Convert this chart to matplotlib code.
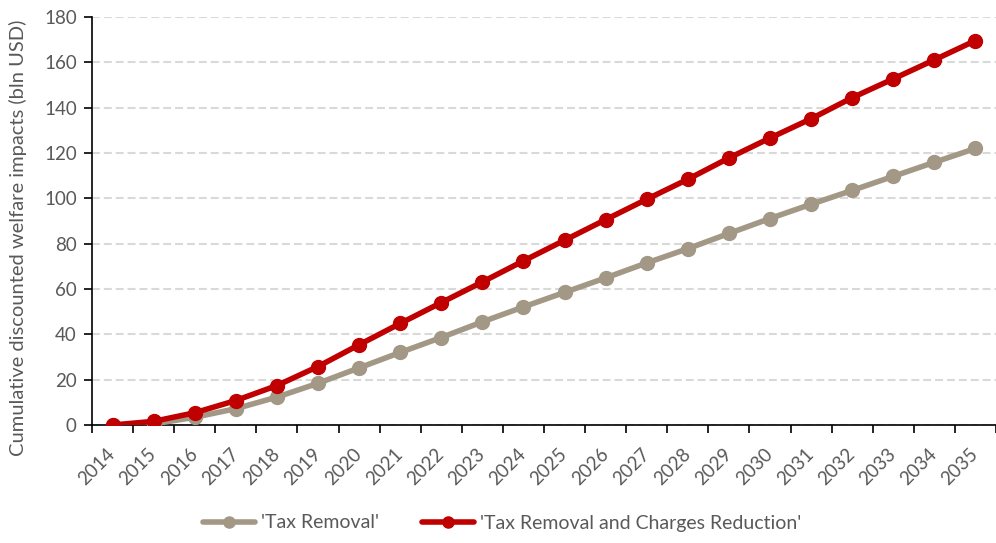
import matplotlib
matplotlib.use("Agg")
import matplotlib.pyplot as plt
from matplotlib.ticker import FixedLocator, MultipleLocator

years = [str(y) for y in range(2014, 2036)]
tax_removal = [0, 0.5, 3.4, 7.2, 12.3, 18.4, 25.2, 32.0, 38.6, 45.5, 52.1,
               58.5, 64.9, 71.5, 77.8, 84.5, 91.1, 97.4, 103.5, 109.7, 115.9, 122.0]
tax_charges = [0, 1.6, 5.4, 10.8, 17.4, 25.8, 35.4, 44.8, 54.0, 63.1, 72.4,
               81.5, 90.6, 99.6, 108.4, 117.8, 126.6, 135.1, 144.4, 152.7, 161.1, 169.6]

plt.rcParams['font.family'] = ['Lato', 'DejaVu Sans']
txt = '#595959'

fig = plt.figure(figsize=(9.96, 5.43), dpi=100)
ax = fig.add_axes([92/996, 118/543, 904/996, 408/543])

x = list(range(len(years)))
ax.plot(x, tax_removal, color='#A29885', lw=4.0, marker='o', ms=10,
        label="'Tax Removal'", zorder=3, solid_capstyle='round')
ax.plot(x, tax_charges, color='#C00000', lw=4.0, marker='o', ms=10,
        label="'Tax Removal and Charges Reduction'", zorder=4, solid_capstyle='round')

ax.set_xlim(-0.5, len(years) - 0.5)
ax.set_ylim(0, 180)
ax.yaxis.set_major_locator(MultipleLocator(20))
ax.grid(axis='y', color='#D9D9D9', lw=1.5, dashes=(3.8, 1.9))
ax.set_axisbelow(True)

ax.set_xticks(x)
ax.set_xticklabels(years, rotation=45, ha='right', va='center', rotation_mode='anchor')
ax.xaxis.set_minor_locator(FixedLocator([i - 0.5 for i in range(len(years) + 1)]))
ax.tick_params(axis='x', which='major', length=0, pad=19, labelsize=13.5, labelcolor=txt)
ax.tick_params(axis='x', which='minor', length=6, width=1.2, direction='out', color='black')
ax.tick_params(axis='y', length=6, width=1.2, direction='out', labelsize=13.5,
               labelcolor=txt, pad=5)

for s in ['top', 'right']:
    ax.spines[s].set_visible(False)
for s in ['left', 'bottom']:
    ax.spines[s].set_linewidth(1.2)
    ax.spines[s].set_color('black')

ax.set_ylabel('Cumulative discounted welfare impacts (bln USD)', fontsize=14.5,
              color=txt)
ax.yaxis.set_label_coords(-0.072, 0.46)

fig.legend(loc='center', bbox_to_anchor=(502/996, 1 - 523/543), ncol=2, frameon=False,
           fontsize=14, labelcolor=txt, handlelength=2.7, columnspacing=2.2,
           handletextpad=0.3, markerscale=0.8)

fig.savefig('out.png', dpi=100)
